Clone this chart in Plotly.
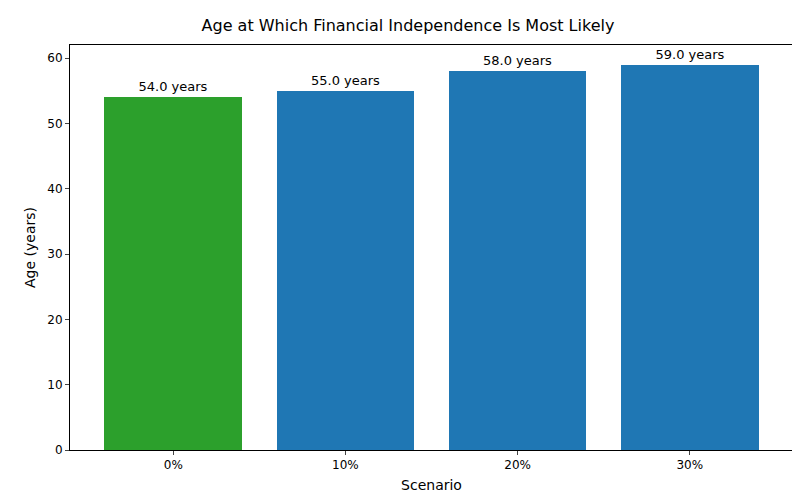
import plotly.graph_objects as go

categories = ["0%", "10%", "20%", "30%"]
ages = [54.0, 55.0, 58.0, 59.0]
colors = ["#2ca02c", "#1f77b4", "#1f77b4", "#1f77b4"]
labels = [f"{a:.1f} years" for a in ages]

fig = go.Figure(go.Bar(
    x=list(range(len(categories))), y=ages, width=0.8,
    marker=dict(color=colors, line=dict(width=0)),
    text=labels, textposition="outside", cliponaxis=False,
    textfont=dict(size=13, color="black"),
))
fig.update_layout(
    width=800, height=500,
    margin=dict(l=62, r=15, t=37, b=58),
    plot_bgcolor="white", paper_bgcolor="white",
    font=dict(family="DejaVu Sans", size=12, color="black"),
    title=dict(text="Age at Which Financial Independence Is Most Likely",
               x=0.5, xanchor="center", y=0.965, yanchor="middle", font=dict(size=16)),
    showlegend=False, bargap=0,
)
fig.update_xaxes(
    title=dict(text="Scenario", standoff=8),
    tickvals=list(range(len(categories))), ticktext=categories,
    range=[-0.6, 3.6], showline=True, linecolor="black", mirror=True,
    ticks="outside", ticklen=4, showgrid=False, zeroline=False,
)
fig.update_yaxes(
    title=dict(text="Age (years)", standoff=8),
    range=[0, 62], dtick=10, showline=True, linecolor="black", mirror=True,
    ticks="outside", ticklen=4, showgrid=False, zeroline=False,
)
fig.write_html("out.html")
